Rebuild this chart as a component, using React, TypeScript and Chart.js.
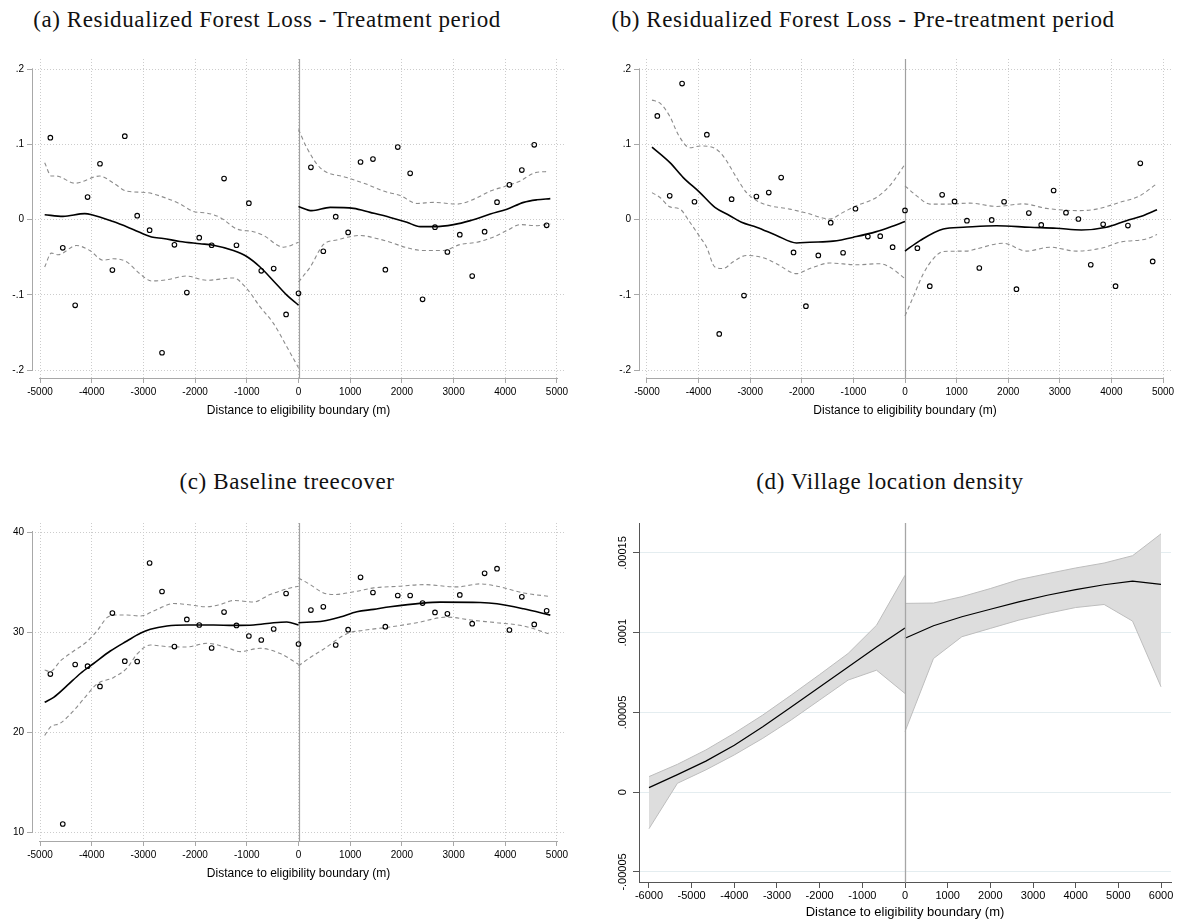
import React, { useEffect, useRef } from "react";
import { Chart, registerables } from "chart.js";
Chart.register(...registerables);

type P = [number, number];

// ---------- shared ----------
const BIN_X = [-4800, -4560, -4320, -4080, -3840, -3600, -3360, -3120, -2880, -2640, -2400, -2160, -1920, -1680, -1440, -1200, -960, -720, -480, -240, 0,
  240, 480, 720, 960, 1200, 1440, 1680, 1920, 2160, 2400, 2640, 2880, 3120, 3360, 3600, 3840, 4080, 4320, 4560, 4800];
const X_TICKS_5K = [-5000, -4000, -3000, -2000, -1000, 0, 1000, 2000, 3000, 4000, 5000];
const X_TICKS_6K = [-6000, -5000, -4000, -3000, -2000, -1000, 0, 1000, 2000, 3000, 4000, 5000, 6000];
const Y_TICKS_AB = [-0.2, -0.1, 0, 0.1, 0.2];
const Y_LABELS_AB = ["-.2", "-.1", "0", ".1", ".2"];
const Y_TICKS_C = [10, 20, 30, 40];
const Y_LABELS_C = ["10", "20", "30", "40"];
const Y_TICKS_D = [-0.00005, 0, 0.00005, 0.0001, 0.00015];
const Y_LABELS_D = ["-.00005", "0", ".00005", ".0001", ".00015"];
const CUTOFF = 0;
const X_TITLE = "Distance to eligibility boundary (m)";
const TITLES = [
  "(a) Residualized Forest Loss - Treatment period",
  "(b) Residualized Forest Loss - Pre-treatment period",
  "(c) Baseline treecover",
  "(d) Village location density",
];

// ---------- panel (a) ----------
const A_POINTS = [0.109, -0.0374, -0.114, 0.030, 0.0744, -0.067, 0.111, 0.0053, -0.014, -0.177, -0.0335, -0.097, -0.024, -0.034, 0.0546, -0.034, 0.022, -0.068, -0.065, -0.126, -0.098,
  0.0696, -0.042, 0.004, -0.017, 0.0767, 0.0806, -0.0665, 0.0965, 0.0617, -0.106, -0.010, -0.043, -0.020, -0.075, -0.016, 0.0233, 0.0463, 0.066, 0.0996, -0.0075];
const A_FIT_L: P[] = [[-4910, 0.0066], [-4555, 0.0044], [-4134, 0.008], [-4000, 0.0066], [-3585, -0.0026], [-3198, -0.013], [-2842, -0.023], [-2616, -0.025], [-2293, -0.029], [-1906, -0.032], [-1647, -0.034], [-1260, -0.041], [-1001, -0.049], [-743, -0.063], [-484, -0.0815], [-226, -0.1004], [0, -0.1137]];
const A_HI_L: P[] = [[-4910, 0.0758], [-4780, 0.058], [-4683, 0.058], [-4328, 0.0485], [-3844, 0.058], [-3585, 0.049], [-3327, 0.038], [-2939, 0.036], [-2616, 0.030], [-2293, 0.021], [-2035, 0.011], [-1776, 0.0088], [-1518, 0.003], [-1195, -0.0123], [-872, -0.016], [-678, -0.021], [-291, -0.0366], [0, -0.030]];
const A_LO_L: P[] = [[-4910, -0.063], [-4780, -0.0445], [-4651, -0.0467], [-4296, -0.0344], [-4037, -0.041], [-3779, -0.054], [-3585, -0.052], [-3327, -0.056], [-3068, -0.072], [-2842, -0.0815], [-2552, -0.080], [-2164, -0.075], [-1776, -0.0806], [-1260, -0.0775], [-1001, -0.0916], [-743, -0.116], [-484, -0.138], [-226, -0.169], [0, -0.197]];
const A_FIT_R: P[] = [[0, 0.0176], [258, 0.012], [613, 0.0163], [1065, 0.015], [1387, 0.0097], [1774, 0.003], [2097, -0.0035], [2355, -0.0093], [2613, -0.0093], [3000, -0.0066], [3323, -0.0013], [3710, 0.0075], [4032, 0.014], [4355, 0.023], [4613, 0.0264], [4871, 0.028]];
const A_HI_R: P[] = [[0, 0.12], [161, 0.0956], [419, 0.069], [935, 0.056], [1323, 0.047], [1645, 0.038], [1968, 0.032], [2290, 0.0216], [2613, 0.023], [3065, 0.0207], [3387, 0.027], [3710, 0.038], [4032, 0.045], [4290, 0.0515], [4581, 0.0626], [4839, 0.064]];
const A_LO_R: P[] = [[0, -0.0828], [226, -0.063], [484, -0.033], [742, -0.027], [1194, -0.021], [1452, -0.024], [1774, -0.030], [2097, -0.0374], [2419, -0.041], [2806, -0.041], [3129, -0.033], [3452, -0.030], [3774, -0.023], [4032, -0.0145], [4290, -0.0066], [4613, -0.008], [4871, -0.0057]];

// ---------- panel (b) ----------
const B_POINTS = [0.138, 0.0317, 0.181, 0.0238, 0.113, -0.152, 0.0273, -0.101, 0.0308, 0.036, 0.056, -0.0436, -0.115, -0.0476, -0.004, -0.044, 0.0145, -0.0225, -0.022, -0.0366, 0.0123,
  -0.0379, -0.0885, 0.033, 0.0242, -0.0013, -0.0643, -0.0004, 0.0238, -0.0925, 0.0088, -0.007, 0.0388, 0.0093, 0.0009, -0.06, -0.0062, -0.0885, -0.0079, 0.0749, -0.0555];
const B_FIT_L: P[] = [[-4903, 0.0965], [-4555, 0.0758], [-4297, 0.056], [-3974, 0.036], [-3684, 0.0163], [-3394, 0.0053], [-3168, -0.0035], [-2877, -0.010], [-2490, -0.021], [-2103, -0.031], [-1845, -0.030], [-1394, -0.0286], [-942, -0.0225], [-555, -0.0159], [-297, -0.010], [0, -0.0026]];
const B_HI_L: P[] = [[-4903, 0.159], [-4748, 0.155], [-4555, 0.137], [-4394, 0.113], [-4168, 0.0956], [-3974, 0.098], [-3684, 0.0947], [-3523, 0.0846], [-3265, 0.056], [-3071, 0.036], [-2813, 0.023], [-2619, 0.0185], [-2232, 0.014], [-1910, 0.0088], [-1458, 0.0009], [-1200, 0.0097], [-942, 0.0185], [-555, 0.0295], [-297, 0.045], [0, 0.0736]];
const B_LO_L: P[] = [[-4903, 0.036], [-4748, 0.0295], [-4555, 0.017], [-4361, 0.014], [-4168, -0.0035], [-3974, -0.023], [-3845, -0.0366], [-3684, -0.063], [-3523, -0.065], [-3329, -0.056], [-3071, -0.0476], [-2748, -0.0507], [-2490, -0.0586], [-2103, -0.0718], [-1845, -0.065], [-1458, -0.0577], [-942, -0.060], [-490, -0.0586], [-297, -0.063], [0, -0.0784]];
const B_FIT_R: P[] = [[0, -0.0418], [290, -0.0278], [742, -0.0123], [1129, -0.0101], [1774, -0.008], [2419, -0.0101], [2935, -0.0115], [3419, -0.0137], [3903, -0.0101], [4290, -0.0013], [4613, 0.0053], [4884, 0.0132]];
const B_HI_R: P[] = [[0, 0.045], [226, 0.0317], [484, 0.0207], [806, 0.0207], [1258, 0.022], [1774, 0.0176], [2290, 0.021], [2742, 0.015], [3387, 0.012], [3710, 0.014], [4161, 0.023], [4548, 0.0317], [4884, 0.048]];
const B_LO_R: P[] = [[0, -0.128], [161, -0.1026], [355, -0.0718], [548, -0.052], [742, -0.0423], [1194, -0.0418], [1387, -0.0388], [1903, -0.0313], [2355, -0.0418], [2806, -0.0366], [3323, -0.0418], [3839, -0.0374], [4161, -0.030], [4677, -0.0256], [4884, -0.0198]];

// ---------- panel (c) ----------
const C_POINTS = [25.79, 10.8, 26.75, 26.58, 24.56, 31.89, 27.08, 27.05, 36.9, 34.05, 28.54, 31.26, 30.7, 28.4, 31.99, 30.66, 29.6, 29.2, 30.3, 33.85, 28.8,
  32.19, 32.52, 28.7, 30.23, 35.47, 33.95, 30.53, 33.65, 33.65, 32.89, 31.96, 31.82, 33.71, 30.83, 35.87, 36.33, 30.2, 33.52, 30.76, 32.12];
const C_FIT_L: P[] = [[-4910, 22.97], [-4736, 23.47], [-4478, 24.63], [-4220, 25.85], [-3963, 26.85], [-3640, 28.1], [-3318, 29.1], [-3060, 29.87], [-2867, 30.27], [-2545, 30.6], [-2159, 30.7], [-1643, 30.7], [-1256, 30.66], [-870, 30.7], [-483, 30.93], [-226, 31.0], [0, 30.7]];
const C_HI_L: P[] = [[-4910, 26.2], [-4800, 26.05], [-4607, 27.1], [-4349, 28.1], [-4091, 29.04], [-3898, 30.1], [-3705, 31.43], [-3544, 31.7], [-3318, 31.7], [-3060, 31.6], [-2738, 32.26], [-2416, 32.85], [-2159, 32.75], [-1772, 32.52], [-1514, 32.75], [-1256, 33.15], [-870, 33.0], [-548, 33.75], [-161, 34.4], [0, 34.58]];
const C_LO_L: P[] = [[-4910, 19.65], [-4800, 20.48], [-4607, 20.88], [-4349, 22.14], [-4156, 23.3], [-3898, 24.8], [-3576, 25.46], [-3318, 26.39], [-3125, 27.78], [-2867, 28.7], [-2545, 28.54], [-2159, 28.5], [-1772, 28.87], [-1385, 28.44], [-1128, 28.04], [-741, 28.37], [-354, 27.84], [0, 26.78]];
const C_FIT_R: P[] = [[0, 30.93], [484, 31.1], [806, 31.5], [1129, 32.02], [1452, 32.26], [1774, 32.52], [2394, 32.89], [2742, 32.99], [3516, 32.95], [3839, 32.82], [4355, 32.32], [4871, 31.69]];
const C_HI_R: P[] = [[0, 35.4], [226, 34.74], [484, 33.9], [677, 33.75], [1129, 34.08], [1452, 34.41], [1968, 34.58], [2419, 34.74], [3065, 34.51], [3516, 34.81], [3839, 34.58], [4355, 33.9], [4871, 33.55]];
const C_LO_R: P[] = [[0, 26.62], [226, 27.45], [484, 28.28], [935, 29.83], [1258, 30.17], [1774, 30.5], [2290, 30.93], [2871, 31.49], [3387, 31.16], [3839, 30.93], [4355, 30.6], [4871, 29.77]];

// ---------- panel (d) ----------
const D_X_L = [-6000, -5333, -4667, -4000, -3333, -2667, -2000, -1333, -667, 0];
const D_X_R = [0, 667, 1333, 2000, 2667, 3333, 4000, 4667, 5333, 6000];
const D_FIT_L = [2.9e-6, 1.1e-5, 1.95e-5, 2.95e-5, 4.1e-5, 5.35e-5, 6.6e-5, 7.85e-5, 9.1e-5, 1.03e-4];
const D_HI_L = [9.8e-6, 1.75e-5, 2.65e-5, 3.7e-5, 4.84e-5, 6.09e-5, 7.38e-5, 8.7e-5, 1.047e-4, 1.36e-4];
const D_LO_L = [-2.29e-5, 5.6e-6, 1.4e-5, 2.34e-5, 3.38e-5, 4.53e-5, 5.78e-5, 7.03e-5, 7.65e-5, 6.19e-5];
const D_FIT_R = [9.65e-5, 1.044e-4, 1.10e-4, 1.147e-4, 1.193e-4, 1.235e-4, 1.27e-4, 1.301e-4, 1.324e-4, 1.303e-4];
const D_HI_R = [1.184e-4, 1.186e-4, 1.226e-4, 1.277e-4, 1.333e-4, 1.37e-4, 1.406e-4, 1.437e-4, 1.483e-4, 1.62e-4];
const D_LO_R = [3.8e-5, 8.38e-5, 9.75e-5, 1.027e-4, 1.079e-4, 1.121e-4, 1.158e-4, 1.177e-4, 1.073e-4, 6.61e-5];

// ---------- helpers ----------
const SANS = "'Liberation Sans', Arial, Helvetica, sans-serif";
const toXY = (arr: P[]) => arr.map(([x, y]) => ({ x, y }));
const zipXY = (xs: number[], ys: number[]) => xs.map((x, i) => ({ x, y: ys[i] }));

function overlayPlugin(kind: "rd" | "density", xTicks: number[], yTicks: number[], yLabels: string[]) {
  return {
    id: "overlay_" + kind,
    beforeDatasetsDraw(chart: any) {
      if (kind !== "rd") return;
      const { ctx, chartArea: ca, scales } = chart;
      const xs = scales.x, ys = scales.y;
      ctx.save();
      ctx.strokeStyle = "#a8a8a8";
      ctx.lineWidth = 1;
      ctx.beginPath();
      const lx = Math.round(ca.left) + 0.5;
      ctx.moveTo(lx, ys.getPixelForValue(Math.max(...yTicks)) - 1);
      ctx.lineTo(lx, ys.getPixelForValue(Math.min(...yTicks)) + 1);
      const by = Math.round(ca.bottom) + 0.5;
      ctx.moveTo(xs.getPixelForValue(Math.min(...xTicks)) - 1, by);
      ctx.lineTo(xs.getPixelForValue(Math.max(...xTicks)) + 1, by);
      ctx.stroke();
      const xc = Math.round(xs.getPixelForValue(CUTOFF)) + 0.5;
      ctx.strokeStyle = "#a0a0a0";
      ctx.lineWidth = 1.2;
      ctx.beginPath();
      ctx.moveTo(xc, ca.top);
      ctx.lineTo(xc, ca.bottom);
      ctx.stroke();
      ctx.restore();
    },
    afterDatasetsDraw(chart: any) {
      if (kind !== "density") return;
      const { ctx, chartArea: ca, scales } = chart;
      const xc = Math.round(scales.x.getPixelForValue(CUTOFF)) + 0.5;
      ctx.save();
      ctx.strokeStyle = "#a6a6a6";
      ctx.lineWidth = 1.3;
      ctx.beginPath();
      ctx.moveTo(xc, ca.top);
      ctx.lineTo(xc, ca.bottom);
      ctx.stroke();
      ctx.restore();
    },
    afterDraw(chart: any) {
      if (kind !== "density") return;
      const { ctx, scales } = chart;
      const ys = scales.y;
      ctx.save();
      ctx.fillStyle = "#000";
      ctx.font = "11px " + SANS;
      ctx.textAlign = "center";
      ctx.textBaseline = "middle";
      yTicks.forEach((v, i) => {
        const y = ys.getPixelForValue(v);
        ctx.save();
        ctx.translate(ys.right - 16, y);
        ctx.rotate(-Math.PI / 2);
        ctx.fillText(yLabels[i], 0, 0);
        ctx.restore();
      });
      ctx.restore();
    },
  };
}

function rdConfig(points: number[], curves: P[][], yMin: number, yMax: number, yTicks: number[], yLabels: string[], padRight: number) {
  const [fitL, hiL, loL, fitR, hiR, loR] = curves;
  const line = (d: P[], dashed: boolean) => ({
    data: toXY(d),
    showLine: true,
    pointRadius: 0,
    borderColor: dashed ? "#8c8c8c" : "#000000",
    borderWidth: dashed ? 1.1 : 1.6,
    borderDash: dashed ? [4, 3] : [],
    cubicInterpolationMode: "monotone",
    fill: false,
  });
  // Chart.js paints dataset 0 last (on top)
  return {
    type: "scatter",
    data: {
      datasets: [
        {
          data: zipXY(BIN_X, points),
          showLine: false,
          pointRadius: 2.3,
          pointBorderWidth: 1.1,
          pointBorderColor: "#000",
          pointBackgroundColor: "rgba(255,255,255,0)",
        },
        line(fitL, false), line(fitR, false),
        line(hiL, true), line(loL, true), line(hiR, true), line(loR, true),
      ],
    },
    options: {
      responsive: false,
      animation: false,
      devicePixelRatio: 1,
      layout: { padding: { top: 8, right: padRight, left: 0, bottom: 0 } },
      plugins: { legend: { display: false }, tooltip: { enabled: false } },
      scales: {
        x: {
          type: "linear",
          min: -5155,
          max: 5155,
          afterBuildTicks: (s: any) => { s.ticks = X_TICKS_5K.map((v) => ({ value: v })); },
          afterFit: (s: any) => { s.height = 52; },
          ticks: { callback: (v: any) => String(v), font: { family: SANS, size: 10 }, color: "#000", padding: 3, maxRotation: 0, autoSkip: false },
          grid: { color: "#cccccc", lineWidth: 1, drawTicks: true, tickLength: 5, tickColor: "#a8a8a8", tickWidth: 1, tickBorderDash: [] },
          border: { display: false, dash: [1, 2] },
          title: { display: true, text: X_TITLE, font: { family: SANS, size: 12 }, color: "#000", padding: { top: 0, bottom: 12 } },
        },
        y: {
          type: "linear",
          min: yMin,
          max: yMax,
          afterBuildTicks: (s: any) => { s.ticks = yTicks.map((v) => ({ value: v })); },
          afterFit: (s: any) => { s.width = 32; },
          ticks: { callback: (_v: any, i: number) => yLabels[i], font: { family: SANS, size: 10 }, color: "#000", padding: 3, autoSkip: false },
          grid: { color: "#cccccc", lineWidth: 1, drawTicks: true, tickLength: 5, tickColor: "#a8a8a8", tickWidth: 1, tickBorderDash: [] },
          border: { display: false, dash: [1, 2] },
        },
      },
    },
    plugins: [overlayPlugin("rd", X_TICKS_5K, yTicks, yLabels)],
  };
}

function densityConfig() {
  const band = "rgba(221,221,221,1)";
  const edge = "#bdbdbd";
  const hi = (xs: number[], ys: number[]) => ({ data: zipXY(xs, ys), showLine: true, pointRadius: 0, borderColor: edge, borderWidth: 1, fill: false });
  const lo = (xs: number[], ys: number[]) => ({ data: zipXY(xs, ys), showLine: true, pointRadius: 0, borderColor: edge, borderWidth: 1, fill: "-1", backgroundColor: band });
  const fit = (xs: number[], ys: number[]) => ({ data: zipXY(xs, ys), showLine: true, pointRadius: 0, borderColor: "#000", borderWidth: 1.2, fill: false });
  // dataset 0 is painted last, so the fit lines come first
  return {
    type: "scatter",
    data: {
      datasets: [
        fit(D_X_L, D_FIT_L), fit(D_X_R, D_FIT_R),
        hi(D_X_L, D_HI_L), lo(D_X_L, D_LO_L),
        hi(D_X_R, D_HI_R), lo(D_X_R, D_LO_R),
      ],
    },
    options: {
      responsive: false,
      animation: false,
      devicePixelRatio: 1,
      layout: { padding: { top: 8, right: 14, left: 0, bottom: 0 } },
      plugins: { legend: { display: false }, tooltip: { enabled: false }, filler: { propagate: false } },
      scales: {
        x: {
          type: "linear",
          min: -6234,
          max: 6234,
          afterBuildTicks: (s: any) => { s.ticks = X_TICKS_6K.map((v) => ({ value: v })); },
          afterFit: (s: any) => { s.height = 39; },
          ticks: { callback: (v: any) => String(v), font: { family: SANS, size: 11 }, color: "#000", padding: 1, maxRotation: 0, autoSkip: false },
          grid: { drawOnChartArea: false, drawTicks: true, tickLength: 6, tickColor: "#555", tickWidth: 1 },
          border: { display: true, color: "#555", width: 1 },
          title: { display: true, text: X_TITLE, font: { family: SANS, size: 13 }, color: "#000", padding: { top: 0, bottom: 1 } },
        },
        y: {
          type: "linear",
          min: -0.0000563,
          max: 0.0001688,
          afterBuildTicks: (s: any) => { s.ticks = Y_TICKS_D.map((v) => ({ value: v })); },
          afterFit: (s: any) => { s.width = 32; },
          ticks: { display: false },
          grid: { color: "#e4edf0", lineWidth: 1, drawTicks: true, tickLength: 6, tickColor: "#555", tickWidth: 1 },
          border: { display: true, color: "#555", width: 1 },
        },
      },
    },
    plugins: [overlayPlugin("density", X_TICKS_6K, Y_TICKS_D, Y_LABELS_D)],
  };
}

function ChartBox({ left, top, width, height, make }: { left: number; top: number; width: number; height: number; make: () => any }) {
  const ref = useRef<HTMLCanvasElement | null>(null);
  useEffect(() => {
    if (!ref.current) return;
    const chart = new Chart(ref.current, make());
    return () => chart.destroy();
  }, []);
  return (
    <canvas
      ref={ref}
      width={width}
      height={height}
      style={{ position: "absolute", left, top, width, height }}
    />
  );
}

function Title({ text, center, baseline }: { text: string; center: number; baseline: number }) {
  return (
    <div
      style={{
        position: "absolute",
        left: center - 320,
        width: 640,
        top: baseline - 20,
        fontFamily: "'Liberation Serif', 'Times New Roman', serif",
        fontSize: 23,
        lineHeight: "23px",
        letterSpacing: "0.6px",
        textAlign: "center",
        whiteSpace: "nowrap",
        color: "#111",
      }}
    >
      {text}
    </div>
  );
}

export default function App() {
  return (
    <div style={{ position: "absolute", left: 0, top: 0, width: 1185, height: 921, background: "#fff", overflow: "hidden" }}>
      <Title text={TITLES[0]} center={267} baseline={28} />
      <Title text={TITLES[1]} center={863} baseline={28} />
      <Title text={TITLES[2]} center={287} baseline={490} />
      <Title text={TITLES[3]} center={890} baseline={490} />
      <ChartBox left={0} top={50} width={590} height={380}
        make={() => rdConfig(A_POINTS, [A_FIT_L, A_HI_L, A_LO_L, A_FIT_R, A_HI_R, A_LO_R], -0.2106, 0.2137, Y_TICKS_AB, Y_LABELS_AB, 25)} />
      <ChartBox left={607} top={50} width={578} height={380}
        make={() => rdConfig(B_POINTS, [B_FIT_L, B_HI_L, B_LO_L, B_FIT_R, B_HI_R, B_LO_R], -0.2106, 0.2137, Y_TICKS_AB, Y_LABELS_AB, 14)} />
      <ChartBox left={0} top={514} width={590} height={379}
        make={() => rdConfig(C_POINTS, [C_FIT_L, C_HI_L, C_LO_L, C_FIT_R, C_HI_R, C_LO_R], 9.1, 40.9, Y_TICKS_C, Y_LABELS_C, 25)} />
      <ChartBox left={607} top={515} width={578} height={406} make={densityConfig} />
    </div>
  );
}
